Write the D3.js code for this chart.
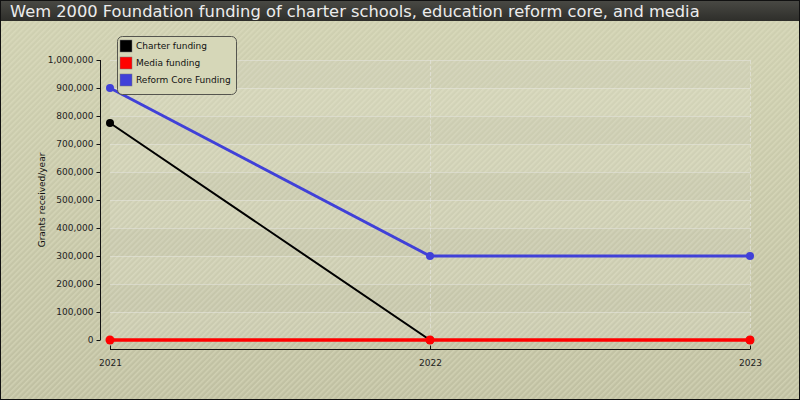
<!DOCTYPE html>
<html><head><meta charset="utf-8">
<script src="https://cdn.jsdelivr.net/npm/d3@7"></script>
<style>body{margin:0;}svg{display:block;}</style>
</head><body>
<svg id="c" width="800" height="400"></svg>
<script>
const title = "Wem 2000 Foundation funding of charter schools, education reform core, and media";
const years = ["2021", "2022", "2023"];
const charter = [775000, 0, 0];
const media = [0, 0, 0];
const reform = [900000, 300000, 300000];
const yTicks = [0,100000,200000,300000,400000,500000,600000,700000,800000,900000,1000000];
const seriesNames = ["Charter funding", "Media funding", "Reform Core Funding"];
const seriesColors = ["#000000", "#ff0000", "#4040d8"];

const svg = d3.select("#c");
const W = 800, H = 400;
const defs = svg.append("defs");
const grad = defs.append("linearGradient").attr("id","bg").attr("x1",0).attr("y1",0).attr("x2",0).attr("y2",1);
grad.append("stop").attr("offset","0%").attr("stop-color","#d0d1b2");
grad.append("stop").attr("offset","100%").attr("stop-color","#c0c0a2");
const pat = defs.append("pattern").attr("id","hatch").attr("patternUnits","userSpaceOnUse")
  .attr("width",4).attr("height",4).attr("patternTransform","rotate(45)");
pat.append("rect").attr("width",1.6).attr("height",4).attr("fill","#e6e6c8").attr("opacity",0.4);
const tg = defs.append("linearGradient").attr("id","tb").attr("x1",0).attr("y1",0).attr("x2",0).attr("y2",1);
tg.append("stop").attr("offset","0%").attr("stop-color","#4a4a45");
tg.append("stop").attr("offset","100%").attr("stop-color","#2e2e2a");

svg.append("rect").attr("width",W).attr("height",H).attr("fill","url(#bg)");
svg.append("rect").attr("width",W).attr("height",H).attr("fill","url(#hatch)");

// title bar
svg.append("rect").attr("x",0).attr("y",0).attr("width",W).attr("height",21).attr("fill","url(#tb)");
svg.append("text").attr("x",10).attr("y",17).attr("fill","#ececec")
  .attr("font-family","DejaVu Sans").attr("font-size",16.3).text(title);

const x = d3.scalePoint().domain(years).range([110, 750]);
const y = d3.scaleLinear().domain([0, 1000000]).range([340, 60]);

// plot area
const pa = svg.append("g");
pa.append("rect").attr("x",110).attr("y",y(1000000)).attr("width",640).attr("height",y(0)-y(1000000))
  .attr("fill","#ffffff").attr("opacity",0.12);
yTicks.slice(0,-1).forEach((t,i)=>{
  if(i%2===1){
    pa.append("rect").attr("x",110).attr("y",y(yTicks[i+1])).attr("width",640)
      .attr("height",y(t)-y(yTicks[i+1])).attr("fill","#000").attr("opacity",0.025);
  }
});
pa.selectAll("line.hg").data(yTicks.slice(1)).join("line")
  .attr("x1",110).attr("x2",750).attr("y1",d=>y(d)+0.5).attr("y2",d=>y(d)+0.5)
  .attr("stroke","#e4e4dc").attr("stroke-width",1).attr("opacity",0.6);
pa.selectAll("line.vg").data(years.slice(1)).join("line")
  .attr("x1",d=>x(d)+0.5).attr("x2",d=>x(d)+0.5).attr("y1",60).attr("y2",340)
  .attr("stroke","#e4e4dc").attr("stroke-dasharray","4,2").attr("opacity",0.7);

// axes
const yAxis = d3.axisLeft(y).tickValues(yTicks).tickFormat(d3.format(",")).tickSize(4).tickPadding(3);
const gy = svg.append("g").attr("transform","translate(100.5,0)").call(yAxis);
gy.select(".domain").attr("d","M0,"+y(1000000)+"V"+y(0));
const xAxis = d3.axisBottom(x).tickSize(-4).tickPadding(8);
const gx = svg.append("g").attr("transform","translate(0,349.5)").call(xAxis);
gx.select(".domain").attr("d","M110,0H750");
svg.selectAll(".tick text").attr("font-family","DejaVu Sans").attr("font-size",9).attr("fill","#222");
gx.selectAll(".tick text").attr("dy","0.9em");
svg.selectAll(".domain,.tick line").attr("stroke","#111");

svg.append("text").attr("transform","translate(45,200) rotate(-90)").attr("text-anchor","middle")
  .attr("font-family","DejaVu Sans").attr("font-size",9).attr("fill","#111").text("Grants received/year");

// series
const data = [charter, media, reform];
const widths = [2, 3.5, 3];
const drawOrder = [0, 2, 1];
const line = d3.line().x((d,i)=>x(years[i])).y(d=>y(d));
drawOrder.forEach(k=>{
  svg.append("path").attr("d", line(data[k])).attr("fill","none")
    .attr("stroke", seriesColors[k]).attr("stroke-width", widths[k]);
  svg.selectAll(null).data(data[k]).join("circle")
    .attr("cx",(d,i)=>x(years[i])).attr("cy",d=>y(d)).attr("r", k===1?4.5:4)
    .attr("fill", seriesColors[k]);
});

// legend
const lg = svg.append("g").attr("transform","translate(117,36)");
lg.append("rect").attr("x",0.5).attr("y",0.5).attr("width",119).attr("height",58).attr("rx",5)
  .attr("fill","#d6d7b8").attr("stroke","#55554f").attr("stroke-width",1);
seriesNames.forEach((n,i)=>{
  lg.append("rect").attr("x",3).attr("y",4+i*17).attr("width",12).attr("height",12)
    .attr("fill",seriesColors[i]).attr("stroke","#777").attr("stroke-width",0.5);
  lg.append("text").attr("x",19).attr("y",13+i*17).attr("font-family","DejaVu Sans").attr("font-size",9)
    .attr("fill","#111").text(n);
});

svg.append("rect").attr("x",0.5).attr("y",0.5).attr("width",W-1).attr("height",H-1)
  .attr("fill","none").attr("stroke","#111");
</script>
</body></html>
